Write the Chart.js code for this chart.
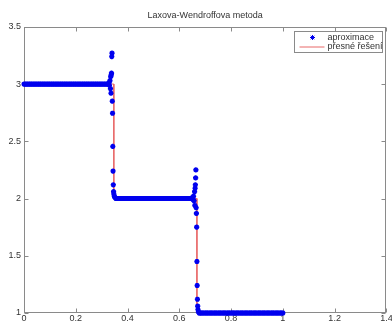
<!DOCTYPE html>
<html><head><meta charset="utf-8">
<script src="https://cdn.jsdelivr.net/npm/chart.js@4.4.0/dist/chart.umd.min.js"></script>
<style>html,body{margin:0;padding:0;background:#fff;overflow:hidden}canvas{display:block}</style>
</head><body>
<canvas id="c" width="392" height="323"></canvas>
<script>
const chartTitle = "Laxova-Wendroffova metoda";
const seriesNames = ["aproximace", "přesné řešení"];
const xTicks = [0, 0.2, 0.4, 0.6, 0.8, 1, 1.2, 1.4];
const yTicks = [1, 1.5, 2, 2.5, 3, 3.5];

// approximation: left plateau
const plateau1X = [0,0.005,0.01,0.015,0.02,0.025,0.03,0.035,0.04,0.045,
  0.05,0.055,0.06,0.065,0.07,0.075,0.08,0.085,0.09,0.095,
  0.1,0.105,0.11,0.115,0.12,0.125,0.13,0.135,0.14,0.145,
  0.15,0.155,0.16,0.165,0.17,0.175,0.18,0.185,0.19,0.195,
  0.2,0.205,0.21,0.215,0.22,0.225,0.23,0.235,0.24,0.245,
  0.25,0.255,0.26,0.265,0.27,0.275,0.28,0.285,0.29,0.295,
  0.3,0.305,0.31,0.315,0.32];
const plateau1Y = [3,3,3,3,3,3,3,3,3,3, 3,3,3,3,3,3,3,3,3,3, 3,3,3,3,3,3,3,3,3,3,
  3,3,3,3,3,3,3,3,3,3, 3,3,3,3,3,3,3,3,3,3, 3,3,3,3,3,3,3,3,3,3, 3,3,3,3,3];
// first shock
const shock1X = [0.325,0.328,0.330,0.332,0.334,0.335,0.336,0.337,0.338,0.339,0.340,
  0.341,0.342,0.343,0.344,0.345,0.346,0.347,0.349,0.351,0.355];
const shock1Y = [3.00,3.01,2.99,3.03,2.96,3.065,2.92,3.08,3.095,3.24,3.27,
  2.85,2.745,2.455,2.24,2.12,2.06,2.04,2.02,2.01,2.0];
// middle plateau
const plateau2X = [0.36,0.365,0.37,0.375,0.38,0.385,0.39,0.395,
  0.4,0.405,0.41,0.415,0.42,0.425,0.43,0.435,0.44,0.445,
  0.45,0.455,0.46,0.465,0.47,0.475,0.48,0.485,0.49,0.495,
  0.5,0.505,0.51,0.515,0.52,0.525,0.53,0.535,0.54,0.545,
  0.55,0.555,0.56,0.565,0.57,0.575,0.58,0.585,0.59,0.595,
  0.6,0.605,0.61,0.615,0.62,0.625,0.63,0.635,0.64,0.645];
const plateau2Y = [2,2,2,2,2,2,2,2, 2,2,2,2,2,2,2,2,2,2, 2,2,2,2,2,2,2,2,2,2,
  2,2,2,2,2,2,2,2,2,2, 2,2,2,2,2,2,2,2,2,2, 2,2,2,2,2,2,2,2,2,2];
// second shock
const shock2X = [0.648,0.651,0.653,0.655,0.657,0.659,0.660,0.661,0.662,0.663,0.664,
  0.665,0.666,0.667,0.668,0.669,0.670,0.671,0.672,0.674,0.677];
const shock2Y = [2.00,2.01,1.99,2.02,1.98,2.06,1.94,2.09,2.12,2.18,2.25,
  1.92,1.87,1.75,1.45,1.24,1.12,1.06,1.03,1.01,1.0];
// right plateau
const plateau3X = [0.68,0.685,0.69,0.695,
  0.7,0.705,0.71,0.715,0.72,0.725,0.73,0.735,0.74,0.745,
  0.75,0.755,0.76,0.765,0.77,0.775,0.78,0.785,0.79,0.795,
  0.8,0.805,0.81,0.815,0.82,0.825,0.83,0.835,0.84,0.845,
  0.85,0.855,0.86,0.865,0.87,0.875,0.88,0.885,0.89,0.895,
  0.9,0.905,0.91,0.915,0.92,0.925,0.93,0.935,0.94,0.945,
  0.95,0.955,0.96,0.965,0.97,0.975,0.98,0.985,0.99,0.995,1];
const plateau3Y = [1,1,1,1, 1,1,1,1,1,1,1,1,1,1, 1,1,1,1,1,1,1,1,1,1,
  1,1,1,1,1,1,1,1,1,1, 1,1,1,1,1,1,1,1,1,1, 1,1,1,1,1,1,1,1,1,1,
  1,1,1,1,1,1,1,1,1,1,1];

// exact solution
const exactX = [0, 0.347, 0.347, 0.668, 0.668, 1];
const exactY = [3, 3, 2, 2, 1, 1];

function zip(xs, ys){ const out=[]; for(let i=0;i<Math.min(xs.length,ys.length);i++) out.push({x:xs[i],y:ys[i]}); return out; }
const approxData = [].concat(zip(plateau1X,plateau1Y), zip(shock1X,shock1Y), zip(plateau2X,plateau2Y), zip(shock2X,shock2Y), zip(plateau3X,plateau3Y));
const exactData = zip(exactX, exactY);

const FONT = '"Liberation Sans", Arial, sans-serif';
const axisColor = '#8a8a8a';
const textColor = '#333';
const blue = '#0000ee';
const red = 'rgb(232,105,105)';

const framePlugin = {
  id: 'frame',
  beforeDatasetsDraw(chart){
    const {ctx, chartArea:a, scales} = chart;
    const L = Math.round(a.left)+0.5, R = Math.round(a.right)-0.5, T = Math.round(a.top)+0.5, B = Math.round(a.bottom)-0.5;
    ctx.save();
    ctx.strokeStyle = axisColor; ctx.lineWidth = 1;
    ctx.strokeRect(L, T, R-L, B-T);
    ctx.beginPath();
    scales.x.ticks.forEach(t => {
      const p = Math.round(scales.x.getPixelForValue(t.value))+0.5;
      ctx.moveTo(p, B); ctx.lineTo(p, B-4);
      ctx.moveTo(p, T); ctx.lineTo(p, T+4);
    });
    scales.y.ticks.forEach(t => {
      const p = Math.round(scales.y.getPixelForValue(t.value))+0.5;
      ctx.moveTo(L, p); ctx.lineTo(L+4, p);
      ctx.moveTo(R, p); ctx.lineTo(R-4, p);
    });
    ctx.stroke();
    ctx.restore();
  }
};

const legendPlugin = {
  id: 'boxLegend',
  afterDraw(chart){
    const {ctx, chartArea:a} = chart;
    const right = Math.round(a.right) - 3.5, top = Math.round(a.top) + 4.5;
    const w = 88, h = 21;
    const left = right - w;
    ctx.save();
    ctx.fillStyle = '#fff';
    ctx.fillRect(left, top, w, h);
    ctx.strokeStyle = axisColor; ctx.lineWidth = 1;
    ctx.strokeRect(left, top, w, h);
    // marker sample
    const mx = left + 18, my1 = top + 6;
    ctx.strokeStyle = blue; ctx.lineWidth = 1;
    const r = 2.5;
    ctx.beginPath();
    ctx.moveTo(mx - r, my1); ctx.lineTo(mx + r, my1);
    ctx.moveTo(mx, my1 - r); ctx.lineTo(mx, my1 + r);
    ctx.moveTo(mx - r*0.7, my1 - r*0.7); ctx.lineTo(mx + r*0.7, my1 + r*0.7);
    ctx.moveTo(mx - r*0.7, my1 + r*0.7); ctx.lineTo(mx + r*0.7, my1 - r*0.7);
    ctx.stroke();
    // line sample
    const my2 = top + 15.5;
    ctx.strokeStyle = red;
    ctx.beginPath(); ctx.moveTo(left + 5, my2); ctx.lineTo(left + 30, my2); ctx.stroke();
    ctx.fillStyle = textColor;
    ctx.font = '9px ' + FONT;
    ctx.textBaseline = 'middle';
    ctx.textAlign = 'left';
    ctx.fillText(seriesNames[0], left + 33, my1);
    ctx.fillText(seriesNames[1], left + 33, my2);
    ctx.restore();
  }
};

const fmt = v => String(+Number(v).toFixed(2));

new Chart(document.getElementById('c'), {
  type: 'scatter',
  data: {
    datasets: [
      { label: seriesNames[0], data: approxData, showLine: false, pointStyle: 'star',
        pointRadius: 2.6, pointBorderColor: blue, pointBackgroundColor: blue, pointBorderWidth: 1.6,
        order: 1, clip: 6 },
      { label: seriesNames[1], data: exactData, showLine: true, borderColor: red, borderWidth: 1,
        pointRadius: 0, order: 2, clip: 2, tension: 0 }
    ]
  },
  options: {
    responsive: false,
    animation: false,
    devicePixelRatio: 1,
    events: [],
    layout: { padding: { left: 0, right: 5, top: 0, bottom: 0 } },
    plugins: {
      legend: { display: false },
      tooltip: { enabled: false },
      title: { display: true, text: chartTitle, color: textColor, fullSize: false,
        font: { family: FONT, size: 9, weight: 'normal', lineHeight: 1.2 },
        padding: { top: 10, bottom: 6 } }
    },
    scales: {
      x: { type: 'linear', min: 0, max: 1.4,
        afterBuildTicks: s => { s.ticks = xTicks.map(v => ({ value: v })); },
        ticks: { callback: fmt, color: textColor, font: { family: FONT, size: 9 }, padding: 0, maxRotation: 0, autoSkip: false },
        grid: { display: false, drawTicks: false }, border: { display: false },
        afterFit: s => { s.height = 10; s.paddingLeft = 0; s.paddingRight = 0; } },
      y: { type: 'linear', min: 1, max: 3.5,
        afterBuildTicks: s => { s.ticks = yTicks.map(v => ({ value: v })); },
        ticks: { callback: fmt, color: textColor, font: { family: FONT, size: 9 }, padding: 3, autoSkip: false },
        grid: { display: false, drawTicks: false }, border: { display: false },
        afterFit: s => { s.width = 24; s.paddingTop = 0; s.paddingBottom = 0; } }
    }
  },
  plugins: [framePlugin, legendPlugin]
});
</script>
</body></html>
